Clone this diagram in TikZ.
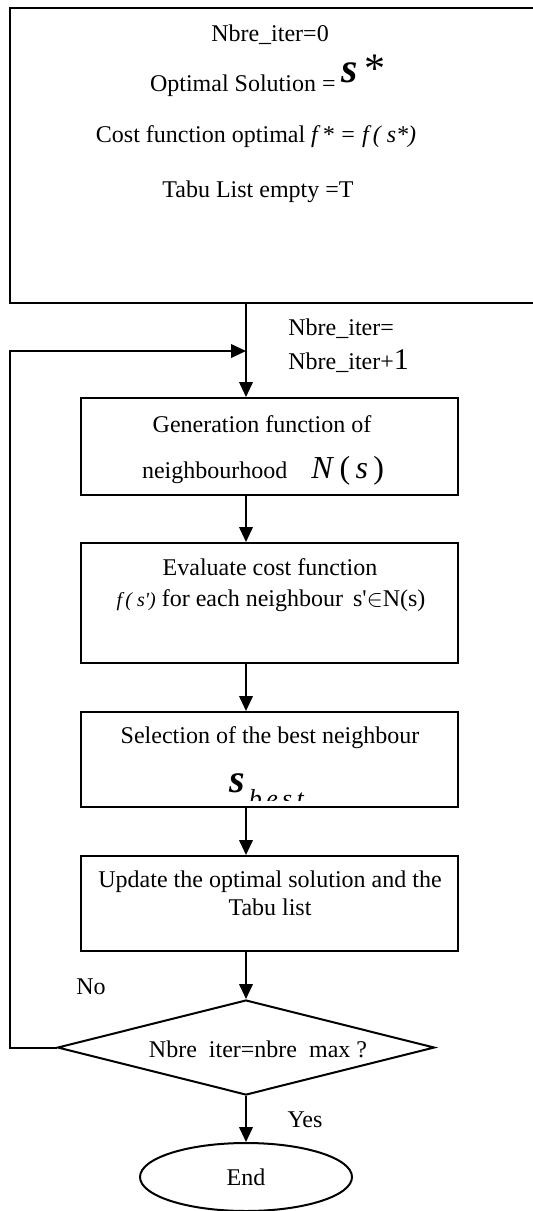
\documentclass[tikz,border=0pt]{standalone}
\usepackage{fontspec}
\setmainfont{Liberation Serif}
\usepackage{tikz}
\usetikzlibrary{shapes.geometric,arrows.meta}

\begin{document}
\begin{tikzpicture}[x=0.5pt, y=-0.5pt, font=\fontsize{12}{14}\selectfont,
    box/.style={draw, rectangle, line width=1pt, inner sep=0pt, minimum width=188.5pt},
    txt/.style={anchor=base, inner sep=0pt},
    arr/.style={line width=1pt, -{Triangle[length=7.5pt,width=6.8pt]}}]
    \useasboundingbox (0,0) rectangle (533,1211);

    % initialisation
    \node[box, minimum width=265pt, minimum height=147.5pt] (init) at (275,155.5) {};
    \node[txt] (nbInit) at (270,41) {Nbre\_iter=0};
    \node[txt] (optSol) at (268,91) {Optimal Solution = \raisebox{4.5pt}{\fontsize{21}{21}\selectfont\textbf{\textit{s}}\,*}};
    \node[txt] (costOpt) at (256,142) {Cost function optimal \textit{f\,* = f\,( s*)}};
    \node[txt] (tabuInit) at (258,197) {Tabu List empty =T};

    \coordinate (axis) at (246,0);
    \coordinate (loop) at (10,351);
    \coordinate (join) at (246,351);

    \node[txt, anchor=base west] (incr1) at (288,335) {Nbre\_iter=};
    \node[txt, anchor=base west] (incr2) at (288,369) {Nbre\_iter+{\fontsize{15}{15}\selectfont 1}};

    % loop body
    \node[box, minimum height=48.5pt] (gen) at (269.5,446.5) {};
    \node[txt] (genL1) at (262,432) {Generation function of};
    \node[txt] (genL2) at (263,478) {neighbourhood\quad{\fontsize{16}{16}\selectfont\textit{N}\,(\,\textit{s}\,)}};

    \node[box, minimum height=60pt] (eval) at (269.5,603) {};
    \node[txt] (evalL1) at (270,575) {Evaluate cost function};
    \node[txt] (evalL2) at (271,606) {{\fontsize{10}{10}\selectfont\textit{f\,( s\textquotesingle)}} for each neighbour\, s\textquotesingle$\in$N(s)};

    \node[box, minimum height=47.5pt] (sel) at (269.5,759.5) {};
    \node[txt] (selL1) at (270,743) {Selection of the best neighbour};
    \begin{scope}
        \clip (sel.north west) rectangle ([yshift=4pt]sel.south east);
        \node[txt, anchor=base west] (sBest) at (229,792) {{\fontsize{20}{20}\selectfont\textbf{\textit{s}}}\,\raisebox{-7.5pt}{\fontsize{13}{13}\selectfont\textit{b\,e\,s\,t}}};
    \end{scope}

    \node[box, minimum height=47.5pt] (upd) at (269.5,903.5) {};
    \node[txt] (updL1) at (270,887) {Update the optimal solution and the};
    \node[txt] (updL2) at (270,915) {Tabu list};

    % stopping test
    \node[draw, diamond, line width=1pt, inner sep=0pt, minimum width=188.5pt, minimum height=47.5pt] (test) at (246,1047.5) {};
    \node[txt] (testTxt) at (258,1057) {Nbre\ \ iter=nbre\ \ max ?};
    \node[txt] (no) at (91,994) {No};
    \node[txt] (yes) at (305,1127) {Yes};

    \node[draw, ellipse, line width=1pt, inner sep=0pt, minimum width=106pt, minimum height=34pt] (stop) at (246,1177) {End};

    \draw[arr] (init.south -| axis) -- (gen.north -| axis);
    \draw[arr] (gen.south -| axis) -- (eval.north -| axis);
    \draw[arr] (eval.south -| axis) -- (sel.north -| axis);
    \draw[arr] (sel.south -| axis) -- (upd.north -| axis);
    \draw[arr] (upd.south -| axis) -- (test.north);
    \draw[arr] (test.south) -- (stop.north);
    \draw[arr] (test.west) -| (loop) -- (join);
\end{tikzpicture}
\end{document}
